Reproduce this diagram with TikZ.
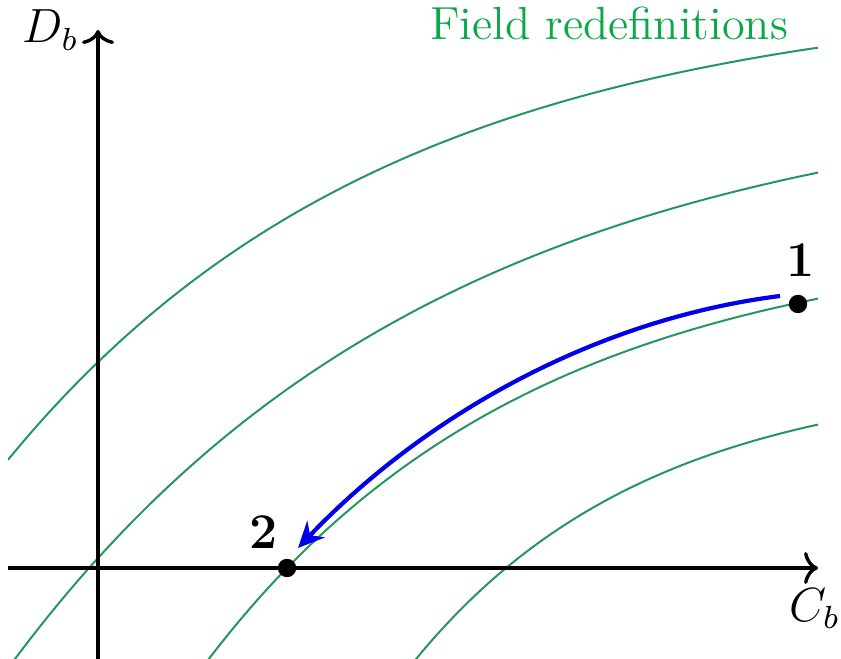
\documentclass[tikz,border=0pt]{standalone}
\usetikzlibrary{arrows.meta}
\definecolor{curvegreen}{RGB}{38,150,95}
\definecolor{textgreen}{RGB}{10,168,70}
\definecolor{arrowblue}{RGB}{0,0,235}
\begin{document}
\begin{tikzpicture}[x=0.25pt,y=-0.25pt,
  axis/.style={line width=0.85pt,-{Computer Modern Rightarrow[length=3.5pt,width=8pt]}},
  fieldline/.style={curvegreen,line width=0.5pt},
  flow/.style={arrowblue,line width=1.05pt,-{Stealth[length=6.5pt,width=6pt]}},
  dot/.style={circle,fill=black,inner sep=0pt,minimum size=4.6pt},
  axislabel/.style={inner sep=0pt,font=\fontsize{12}{14}\selectfont},
  numlabel/.style={inner sep=0pt,font=\fontsize{12.5}{14}\selectfont\bfseries},
  title/.style={inner sep=0pt,text=textgreen,font=\fontsize{11.6}{13}\selectfont}]
\useasboundingbox (0,0) rectangle (841,659);
% field-redefinition curves
\begin{scope}
  \clip (8,0) rectangle (818,659);
  \draw[fieldline] plot[domain=8:818,samples=150,smooth] (\x,{-9.6+371.6*exp(-(\x-98)/385)});
  \draw[fieldline] plot[domain=8:818,samples=150,smooth] (\x,{83.7+474.3*exp(-(\x-98)/430)});
  \draw[fieldline] plot[domain=195:818,samples=130,smooth] (\x,{233.3+334.7*exp(-(\x-287)/325)});
  \draw[fieldline] plot[domain=410:818,samples=100,smooth] (\x,{372.8+195.2*exp(-(\x-506)/235)});
\end{scope}
% axes
\coordinate (xs) at (8,568);
\coordinate (xe) at (818,568);
\coordinate (ys) at (98,659);
\coordinate (ye) at (98,30);
\draw[axis] (xs) -- (xe);
\draw[axis] (ys) -- (ye);
\node[axislabel,anchor=base west] (dlab) at (22,43) {$D_b$};
\node[axislabel,anchor=base west] (clab) at (789,621) {$C_b$};
\node[title,anchor=base] (ttl) at (609,40) {Field redefinitions};
% points
\node[dot] (p1) at (798,304) {};
\node[dot] (p2) at (287,568) {};
\node[numlabel,anchor=base] (l1) at (801,277) {1};
\node[numlabel,anchor=base] (l2) at (264,548) {2};
% flow arrow
\coordinate (fs) at (780,296);
\coordinate (fe) at (298,548);
\draw[flow] (fs) .. controls (590,320) and (420,420) .. (fe);
\end{tikzpicture}
\end{document}
